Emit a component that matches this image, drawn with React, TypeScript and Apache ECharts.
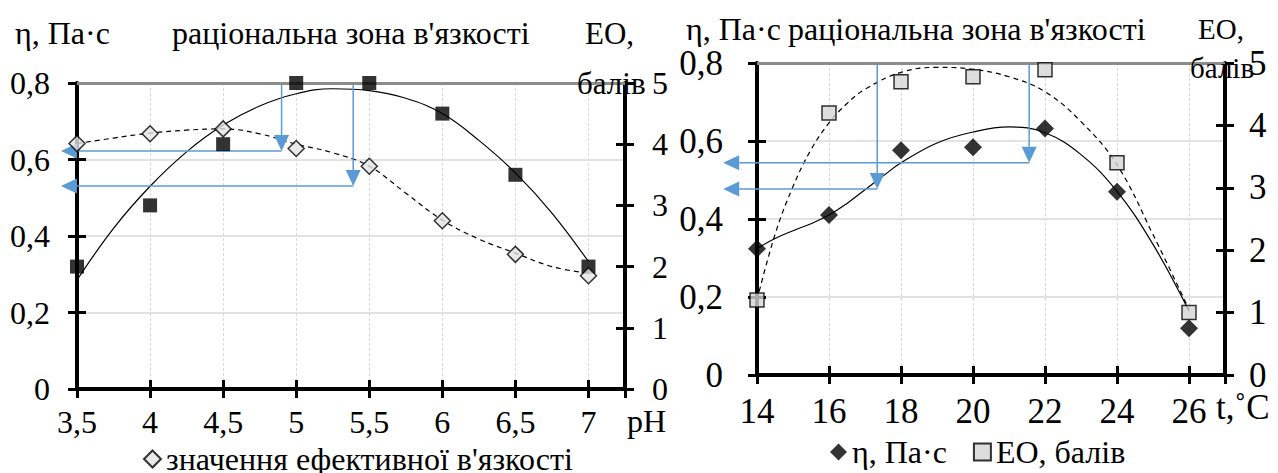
import React, { useEffect, useRef } from 'react';
import * as echarts from 'echarts';

// ---------- Left chart: pH ----------
const phTicks = [3.5, 4, 4.5, 5, 5.5, 6, 6.5, 7];
const phViscosity = [0.32, 0.48, 0.64, 0.8, 0.8, 0.72, 0.56, 0.32];
const phScore = [4.01, 4.17, 4.25, 3.93, 3.64, 2.75, 2.2, 1.85];
const phViscTrendX = [3.5, 3.75, 4, 4.25, 4.5, 4.75, 5, 5.25, 5.5, 5.75, 6, 6.25, 6.5, 6.75, 7];
const phViscTrendY = [0.285, 0.42, 0.53, 0.62, 0.69, 0.74, 0.772, 0.785, 0.78, 0.76, 0.72, 0.65, 0.565, 0.46, 0.333];
const phScoreTrendX = [3.5, 3.75, 4, 4.25, 4.5, 4.75, 5, 5.25, 5.5, 5.75, 6, 6.25, 6.5, 6.75, 7];
const phScoreTrendY = [4.01, 4.1, 4.18, 4.23, 4.25, 4.17, 4.0, 3.86, 3.64, 3.2, 2.76, 2.45, 2.22, 2.0, 1.89];
const phArrowX = [4.9, 5.39];
const phArrowLevel = [0.622, 0.531];
const phArrowTip = 3.39;

// ---------- Right chart: temperature ----------
const tTicks = [14, 16, 18, 20, 22, 24, 26];
const tViscosity = [0.324, 0.41, 0.576, 0.584, 0.632, 0.47, 0.12];
const tScore = [1.2, 4.2, 4.7, 4.78, 4.89, 3.4, 1.0];
const tViscTrendX = [14, 14.5, 15, 15.5, 16, 16.5, 17, 17.5, 18, 19, 20, 21, 22, 23, 24, 25, 26];
const tViscTrendY = [0.324, 0.35, 0.37, 0.388, 0.41, 0.44, 0.475, 0.51, 0.544, 0.595, 0.623, 0.636, 0.621, 0.565, 0.471, 0.335, 0.164];
const tScoreTrendX = [14, 14.5, 15, 15.5, 16, 16.5, 17, 18, 19, 20, 21, 22, 23, 24, 25, 26];
const tScoreTrendY = [1.2, 2.25, 3.02, 3.61, 4.04, 4.35, 4.58, 4.85, 4.93, 4.9, 4.78, 4.54, 4.06, 3.37, 2.25, 1.05];
const tArrowX = [17.34, 21.56];
const tArrowLevel = [0.477, 0.544];
const tArrowTip = 13.06;

const yViscTicks = [0, 0.2, 0.4, 0.6, 0.8];
const yScoreTicks = [0, 1, 2, 3, 4, 5];

const FONT = 'Liberation Serif';
const BLUE = '#5B9BD5';

const comma = (v: number) => String(v).replace('.', ',');

function App() {
  const ref = useRef<HTMLDivElement>(null);

  useEffect(() => {
    if (!ref.current) return;
    const chart = echarts.init(ref.current, null, { renderer: 'svg' });

    const grids = [
      { left: 77, top: 83, width: 548, height: 306 },
      { left: 757, top: 63, width: 468, height: 312 },
    ];
    const xCfg = [
      { min: 3.5, max: 7.25, interval: 0.5, ticks: phTicks, fs: 32, margin: 17 },
      { min: 14, max: 27, interval: 2, ticks: tTicks, fs: 35, margin: 19 },
    ];
    const yCfg = [
      { fs: 32, marginL: 27, marginR: 27 },
      { fs: 35, marginL: 34, marginR: 24 },
    ];

    const xAxis: any[] = [];
    const yAxis: any[] = [];
    for (let g = 0; g < 2; g++) {
      const c = xCfg[g];
      const base = {
        gridIndex: g, type: 'value', min: c.min, max: c.max, interval: c.interval, position: 'bottom',
      };
      xAxis.push({
        ...base,
        axisLine: { show: true, lineStyle: { color: '#000', width: 4 } },
        axisTick: { show: true, length: 9, lineStyle: { color: '#000', width: 3 } },
        axisLabel: {
          color: '#000', fontFamily: FONT, fontSize: c.fs, margin: c.margin,
          formatter: (v: number) => (c.ticks.includes(v) ? comma(v) : ''),
        },
        splitLine: { show: true, lineStyle: { color: '#d9d9d9', width: 1, type: [3, 2] } },
      });
      xAxis.push({
        ...base,
        axisLine: { show: false },
        axisTick: { show: true, inside: true, length: 9, lineStyle: { color: '#000', width: 3 } },
        axisLabel: { show: false },
        splitLine: { show: false },
      });
    }
    for (let g = 0; g < 2; g++) {
      const c = yCfg[g];
      const left = { gridIndex: g, type: 'value', min: 0, max: 0.8, interval: 0.2, position: 'left' };
      const right = { gridIndex: g, type: 'value', min: 0, max: 5, interval: 1, position: 'right' };
      yAxis.push({
        ...left,
        axisLine: { show: true, lineStyle: { color: '#000', width: 4 } },
        axisTick: { show: true, length: 9, lineStyle: { color: '#000', width: 3 } },
        axisLabel: {
          color: '#000', fontFamily: FONT, fontSize: c.fs, margin: c.marginL,
          formatter: (v: number) => (yViscTicks.includes(v) ? comma(v) : ''),
        },
        splitLine: { show: true, lineStyle: { color: '#d9d9d9', width: 1.5 } },
      });
      yAxis.push({
        ...right,
        axisLine: { show: true, lineStyle: { color: '#000', width: 4 } },
        axisTick: { show: true, length: 9, lineStyle: { color: '#000', width: 3 } },
        axisLabel: {
          color: '#000', fontFamily: FONT, fontSize: c.fs, margin: c.marginR,
          formatter: (v: number) => (yScoreTicks.includes(v) ? String(v) : ''),
        },
        splitLine: { show: false },
      });
      yAxis.push({
        ...left,
        axisLine: { show: false },
        axisTick: { show: true, inside: true, length: 9, lineStyle: { color: '#000', width: 3 } },
        axisLabel: { show: false },
        splitLine: { show: false },
      });
      yAxis.push({
        ...right,
        axisLine: { show: false },
        axisTick: { show: true, inside: true, length: 9, lineStyle: { color: '#000', width: 3 } },
        axisLabel: { show: false },
        splitLine: { show: false },
      });
    }

    // arrow segments [x1, y1, x2(tip), y2(tip)]
    const arrowData = (xs: number[], levels: number[], tip: number) => {
      const out: number[][] = [];
      xs.forEach((x, i) => {
        out.push([x, 0.8, x, levels[i]]);
        out.push([x, levels[i], tip, levels[i]]);
      });
      return out;
    };

    const arrowSeries = (xi: number, yi: number, data: number[][]) => ({
      type: 'custom',
      xAxisIndex: xi,
      yAxisIndex: yi,
      silent: true,
      clip: false,
      z: 4,
      encode: { x: [0, 2], y: [1, 3] },
      data,
      renderItem: (params: any, api: any) => {
        const p1 = api.coord([api.value(0), api.value(1)]);
        const p2 = api.coord([api.value(2), api.value(3)]);
        const dx = p2[0] - p1[0];
        const dy = p2[1] - p1[1];
        const len = Math.sqrt(dx * dx + dy * dy) || 1;
        const ux = dx / len;
        const uy = dy / len;
        const headLen = 16;
        const headHalf = 7.5;
        const bx = p2[0] - ux * headLen;
        const by = p2[1] - uy * headLen;
        return {
          type: 'group',
          children: [
            {
              type: 'line',
              shape: { x1: p1[0], y1: p1[1], x2: bx, y2: by },
              style: { stroke: BLUE, lineWidth: 1.5 },
            },
            {
              type: 'polygon',
              shape: {
                points: [
                  [p2[0], p2[1]],
                  [bx - uy * headHalf, by + ux * headHalf],
                  [bx + uy * headHalf, by - ux * headHalf],
                ],
              },
              style: { fill: BLUE },
            },
          ],
        };
      },
    });

    const topLine = {
      silent: true,
      symbol: 'none',
      label: { show: false },
      lineStyle: { color: '#8c8c8c', width: 3, type: 'solid' },
      emphasis: { disabled: true },
      data: [{ yAxis: 5 }],
    };

    const trend = (xs: number[], ys: number[], xi: number, yi: number, dashed: boolean, extra: any) => ({
      type: 'line',
      xAxisIndex: xi,
      yAxisIndex: yi,
      data: xs.map((x, i) => [x, ys[i]]),
      smooth: 0.4,
      showSymbol: false,
      symbol: 'none',
      clip: false,
      silent: true,
      z: 1,
      lineStyle: { color: '#000', width: 1.2, type: dashed ? [5, 4] : 'solid' },
      ...extra,
    });

    const option: any = {
      animation: false,
      textStyle: { fontFamily: FONT },
      grid: grids,
      xAxis,
      yAxis,
      legend: [
        {
          left: 138, top: 438,
          data: ["значення ефективної в'язкості"],
          itemWidth: 17, itemHeight: 17,
          textStyle: { fontFamily: FONT, fontSize: 32, color: '#000' },
          selectedMode: false,
        },
        {
          left: 825, top: 431,
          data: ['η, Па·с', 'ЕО, балів'],
          itemWidth: 17, itemHeight: 17, itemGap: 26,
          textStyle: { fontFamily: FONT, fontSize: 32, color: '#000' },
          selectedMode: false,
        },
      ],
      series: [
        trend(phViscTrendX, phViscTrendY, 0, 0, false, {}),
        trend(phScoreTrendX, phScoreTrendY, 0, 1, true, { markLine: topLine }),
        arrowSeries(0, 0, arrowData(phArrowX, phArrowLevel, phArrowTip)),
        {
          type: 'scatter', name: 'η pH', xAxisIndex: 0, yAxisIndex: 0,
          data: phTicks.map((x, i) => [x, phViscosity[i]]),
          symbol: 'rect', symbolSize: 14, itemStyle: { color: '#000' }, z: 5,
        },
        {
          type: 'scatter', name: "значення ефективної в'язкості", xAxisIndex: 0, yAxisIndex: 1,
          data: phTicks.map((x, i) => [x, phScore[i]]),
          symbol: 'diamond', symbolSize: 16,
          itemStyle: { color: '#e4e4e4', borderColor: '#000', borderWidth: 1.5 }, z: 6,
        },
        trend(tViscTrendX, tViscTrendY, 2, 4, false, {}),
        trend(tScoreTrendX, tScoreTrendY, 2, 5, true, { markLine: topLine }),
        arrowSeries(2, 4, arrowData(tArrowX, tArrowLevel, tArrowTip)),
        {
          type: 'scatter', name: 'η, Па·с', xAxisIndex: 2, yAxisIndex: 4,
          data: tTicks.map((x, i) => [x, tViscosity[i]]),
          symbol: 'diamond', symbolSize: 18, itemStyle: { color: '#000' }, z: 5,
        },
        {
          type: 'scatter', name: 'ЕО, балів', xAxisIndex: 2, yAxisIndex: 5,
          data: tTicks.map((x, i) => [x, tScore[i]]),
          symbol: 'rect', symbolSize: 14,
          itemStyle: { color: '#d4d4d4', borderColor: '#000', borderWidth: 1.5 }, z: 6,
        },
      ],
      graphic: [
        ['η, Па·с', 15, 33, 32],
        ["раціональна зона в'язкості", 172, 33, 32],
        ['ЕО,', 585, 33, 31],
        ['балів', 577, 83, 31],
        ['pH', 627, 421, 32],
        ['η, Па·с', 686, 29, 32],
        ["раціональна зона в'язкості", 788, 29, 32],
        ['ЕО,', 1198, 29, 29],
        ['балів', 1190, 68, 29],
        ['t,˚C', 1216, 407, 35],
      ].map(([text, x, y, fs]) => ({
        type: 'text',
        x, y, z: 100,
        silent: true,
        style: {
          text, fill: '#000', fontFamily: FONT, fontSize: fs,
          align: 'left', verticalAlign: 'middle',
        },
      })),
    };

    chart.setOption(option);
    return () => chart.dispose();
  }, []);

  return (
    <div
      ref={ref}
      style={{ position: 'absolute', left: 0, top: 0, width: 1278, height: 473, background: '#fff' }}
    />
  );
}

export default App;
